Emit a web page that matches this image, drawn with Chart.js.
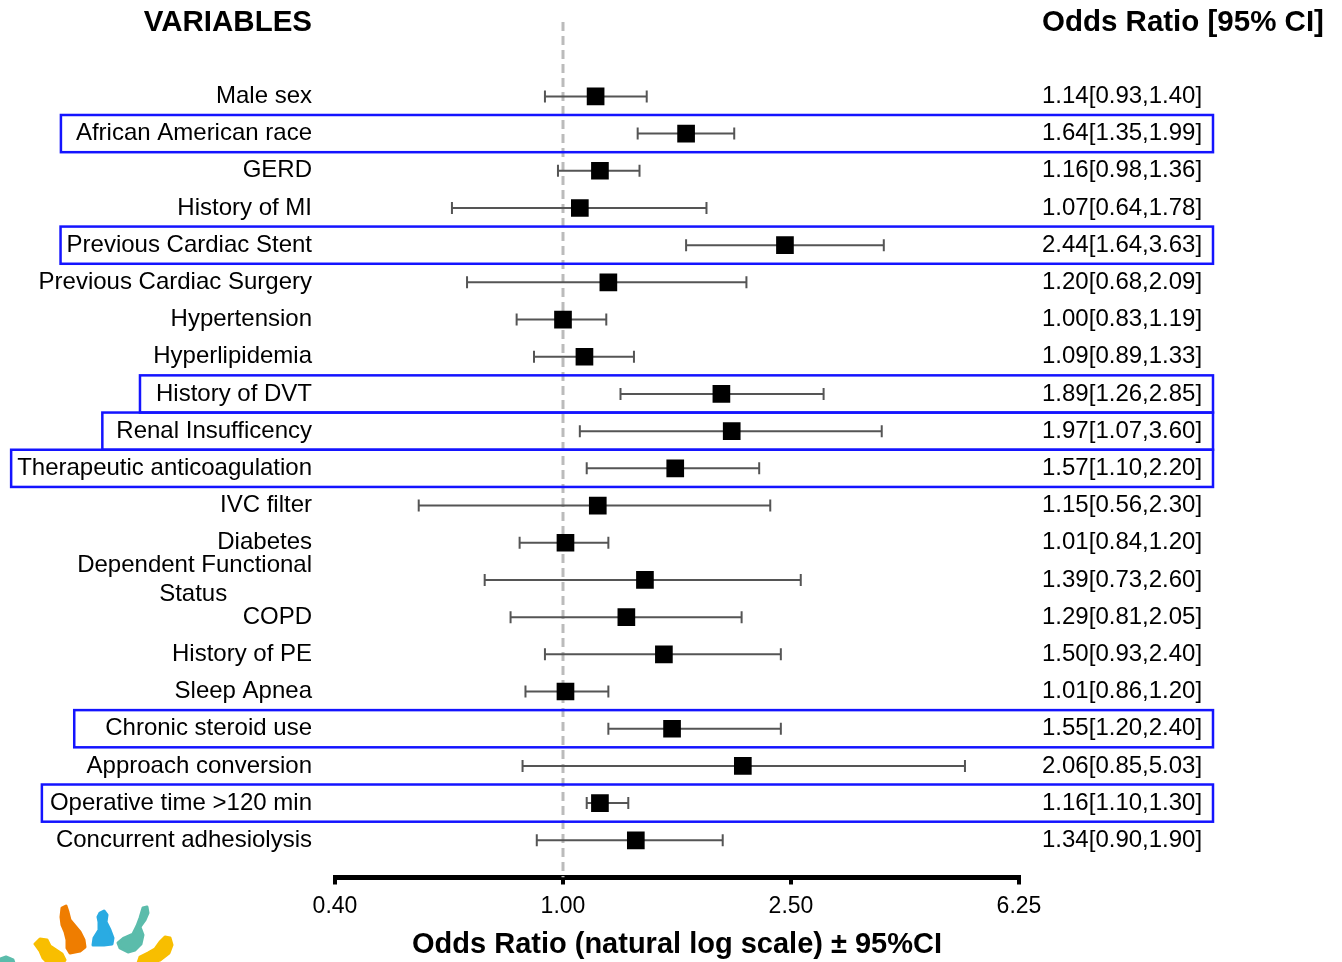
<!DOCTYPE html>
<html>
<head>
<meta charset="utf-8">
<title>Odds ratio forest plot</title>
<script src="https://cdn.jsdelivr.net/npm/chart.js@4.4.1/dist/chart.umd.min.js"></script>
<style>
  html, body { margin: 0; padding: 0; background: #fff; }
  #wrap { width: 1342px; height: 962px; }
</style>
</head>
<body>
<div id="wrap"><canvas id="forest" width="1342" height="962"></canvas></div>
<script>
// rows, top to bottom
const variables = [
    "Male sex", "African American race", "GERD", "History of MI",
    "Previous Cardiac Stent", "Previous Cardiac Surgery", "Hypertension",
    "Hyperlipidemia", "History of DVT", "Renal Insufficency",
    "Therapeutic anticoagulation", "IVC filter", "Diabetes",
    ["Dependent Functional", "Status" + "\u00a0".repeat(12) + "\u2009"],
    "COPD", "History of PE", "Sleep Apnea", "Chronic steroid use",
    "Approach conversion", "Operative time >120 min", "Concurrent adhesiolysis"
];
const oddsRatio = [1.14, 1.64, 1.16, 1.07, 2.44, 1.20, 1.00, 1.09, 1.89, 1.97, 1.57,
                   1.15, 1.01, 1.39, 1.29, 1.50, 1.01, 1.55, 2.06, 1.16, 1.34];
const ciLow  = [0.93, 1.35, 0.98, 0.64, 1.64, 0.68, 0.83, 0.89, 1.26, 1.07, 1.10,
                0.56, 0.84, 0.73, 0.81, 0.93, 0.86, 1.20, 0.85, 1.10, 0.90];
const ciHigh = [1.40, 1.99, 1.36, 1.78, 3.63, 2.09, 1.19, 1.33, 2.85, 3.60, 2.20,
                2.30, 1.20, 2.60, 2.05, 2.40, 1.20, 2.40, 5.03, 1.30, 1.90];
// rows framed in blue (index into variables)
const highlighted = [1, 4, 8, 9, 10, 17, 19];
const xTicks = [0.40, 1.00, 2.50, 6.25];

// gap between label text and the blue frame, per framed row (drawn by hand in the original)
const frameGap = { 1: 15, 4: 6, 8: 16, 9: 14, 10: 6, 17: 31, 19: 8 };

const FONT = "Arial, 'Liberation Sans', sans-serif";
Chart.defaults.font.family = FONT;
Chart.defaults.color = "#000";

const nRows = variables.length;
const ciText = oddsRatio.map((v, i) =>
    `${v.toFixed(2)}[${ciLow[i].toFixed(2)},${ciHigh[i].toFixed(2)}]`);

const pointData = oddsRatio.map((v, i) => ({ x: v, y: i + 1 }));
const barData = [];
ciLow.forEach((lo, i) => {
    barData.push({ x: lo, y: i + 1 }, { x: ciHigh[i], y: i + 1 }, { x: null, y: null });
});

function rowLabel(value) {
    const i = Math.round(value) - 1;
    return (Number.isInteger(value) && i >= 0 && i < nRows) ? variables[i] : null;
}
function ciLabel(value) {
    const i = Math.round(value) - 1;
    return (Number.isInteger(value) && i >= 0 && i < nRows) ? ciText[i] : null;
}

// keep the row axes from reserving room for their (empty) end labels
function fixRowAxis(width) {
    return (scale) => {
        scale.width = width;
        scale.paddingTop = 0;
        scale.paddingBottom = 0;
    };
}

const decorations = {
    id: "decorations",
    afterDraw(chart) {
        const ctx = chart.ctx;
        const yL = chart.scales.y;
        const yR = chart.scales.yR;
        ctx.save();

        // column headers
        ctx.font = "bold 29.5px " + FONT;
        ctx.fillStyle = "#000";
        ctx.textBaseline = "middle";
        ctx.textAlign = "right";
        ctx.fillText("VARIABLES", yL.right - 23, 23);
        ctx.textAlign = "left";
        ctx.fillText("Odds Ratio [95% CI]", yR.left + 23, 23);

        // blue frames around the significant rows
        ctx.font = "24px " + FONT;
        ctx.strokeStyle = "#1414ff";
        ctx.lineWidth = 2.5;
        highlighted.forEach(i => {
            const label = variables[i];
            const w = Array.isArray(label)
                ? Math.max(...label.map(s => ctx.measureText(s).width))
                : ctx.measureText(label).width;
            const left = yL.right - 23 - w - frameGap[i];
            const right = yR.left + 194;
            const top = yL.getPixelForValue(i + 0.5);
            const bottom = yL.getPixelForValue(i + 1.5);
            ctx.strokeRect(left, top, right - left, bottom - top);
        });

        // logo fragment, bottom left
        const blob = (pts, color) => {
            ctx.beginPath();
            pts.forEach((p, k) => k ? ctx.lineTo(p[0], p[1]) : ctx.moveTo(p[0], p[1]));
            ctx.closePath();
            ctx.fillStyle = color;
            ctx.strokeStyle = color;
            ctx.lineJoin = "round";
            ctx.lineWidth = 3;
            ctx.fill();
            ctx.stroke();
        };
        blob([[35, 944], [40, 939], [47, 940], [50, 946], [56, 950], [62, 954], [65, 960], [63, 963], [48, 963], [43, 958], [40, 951]], "#f8be00");
        blob([[62, 908], [66, 906], [68, 912], [70, 920], [75, 926], [80, 932], [84, 940], [85, 947], [80, 951], [70, 953], [67, 948], [67, 940], [65, 932], [62, 925], [61, 917]], "#ef7d00");
        blob([[100, 913], [104, 911], [107, 915], [106, 922], [110, 930], [113, 938], [112, 944], [104, 945], [93, 945], [94, 938], [99, 930], [99, 922], [98, 917]], "#2aabe2");
        blob([[143, 908], [147, 907], [148, 913], [145, 920], [140, 927], [143, 935], [141, 944], [135, 950], [128, 952], [120, 948], [118, 943], [124, 938], [133, 934], [137, 926], [140, 918]], "#5bbcab");
        blob([[165, 937], [170, 938], [172, 945], [169, 953], [160, 960], [150, 963], [138, 963], [140, 957], [148, 953], [155, 949], [160, 942]], "#f8be00");
        blob([[0, 959], [6, 957], [13, 960], [14, 963], [0, 963]], "#5bbcab");

        ctx.restore();
    }
};

new Chart(document.getElementById("forest"), {
    type: "scatter",
    data: {
        datasets: [{
            label: "Odds ratio",
            data: pointData,
            pointStyle: "rect",
            pointRadius: 12.5,
            pointHoverRadius: 12.5,
            backgroundColor: "#000",
            borderWidth: 0
        }, {
            type: "line",
            label: "95% CI",
            data: barData,
            borderColor: "#555",
            borderWidth: 2,
            spanGaps: false,
            pointStyle: "line",
            rotation: 90,
            pointRadius: 6,
            pointHoverRadius: 6,
            pointBorderColor: "#555",
            pointBorderWidth: 2
        }, {
            type: "line",
            label: "OR = 1",
            data: [{ x: 1, y: -1 }, { x: 1, y: nRows + 1 }],
            borderColor: "#bbbbbb",
            borderWidth: 3,
            borderDash: [9, 5],
            pointRadius: 0
        }]
    },
    options: {
        responsive: false,
        animation: false,
        events: [],
        layout: { padding: { top: 22, left: 0, right: 0, bottom: 0 } },
        scales: {
            x: {
                type: "logarithmic",
                min: 0.4,
                max: 6.25,
                afterBuildTicks: (scale) => {
                    scale.ticks = xTicks.map(v => ({ value: v }));
                },
                afterFit: (scale) => {
                    scale.height = 84.5;
                    scale.paddingLeft = 0;
                    scale.paddingRight = 0;
                },
                ticks: {
                    autoSkip: false,
                    maxRotation: 0,
                    padding: 8,
                    font: { size: 23 },
                    callback: (value) => Number(value).toFixed(2)
                },
                grid: {
                    drawOnChartArea: false,
                    drawTicks: true,
                    tickLength: 7,
                    lineWidth: 4,
                    color: "#000"
                },
                border: { display: true, width: 5, color: "#000" },
                title: {
                    display: true,
                    text: "Odds Ratio (natural log scale) \u00b1 95%CI",
                    font: { size: 29, weight: "bold" },
                    padding: { top: 7, bottom: 0 }
                }
            },
            y: {
                type: "linear",
                position: "left",
                reverse: true,
                min: -1,
                max: nRows + 1,
                afterFit: fixRowAxis(335),
                ticks: {
                    stepSize: 1,
                    autoSkip: false,
                    padding: 23,
                    font: { size: 24 },
                    callback: rowLabel
                },
                grid: { display: false, drawTicks: false },
                border: { display: false }
            },
            yR: {
                type: "linear",
                position: "right",
                reverse: true,
                min: -1,
                max: nRows + 1,
                afterFit: fixRowAxis(323),
                ticks: {
                    stepSize: 1,
                    autoSkip: false,
                    padding: 23,
                    font: { size: 24 },
                    callback: ciLabel
                },
                grid: { display: false, drawTicks: false },
                border: { display: false }
            }
        },
        plugins: {
            legend: { display: false },
            tooltip: { enabled: false }
        }
    },
    plugins: [decorations]
});
</script>
</body>
</html>
